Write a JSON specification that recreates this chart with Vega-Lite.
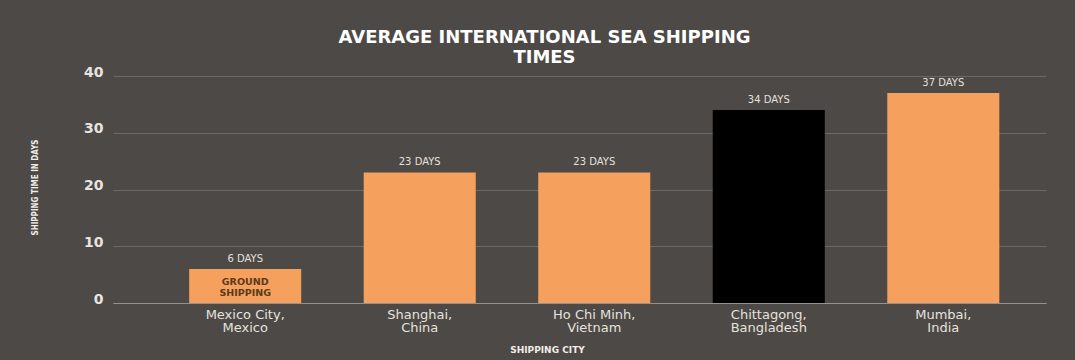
{
  "$schema": "https://vega.github.io/schema/vega-lite/v6.json",
  "width": 933,
  "height": 227,
  "autosize": {"type": "none"},
  "padding": {"left": 113, "top": 76, "right": 29, "bottom": 57},
  "background": "#4d4946",
  "title": {
    "text": ["AVERAGE INTERNATIONAL SEA SHIPPING", "TIMES"],
    "font": "DejaVu Sans",
    "fontSize": 18,
    "fontWeight": "bold",
    "color": "#ffffff",
    "lineHeight": 20,
    "anchor": "middle",
    "dx": -35,
    "offset": -2
  },
  "data": {
    "values": [
      {"city": "Mexico City, Mexico", "days": 6, "note": "GROUND SHIPPING"},
      {"city": "Shanghai, China", "days": 23},
      {"city": "Ho Chi Minh, Vietnam", "days": 23},
      {"city": "Chittagong, Bangladesh", "days": 34},
      {"city": "Mumbai, India", "days": 37}
    ]
  },
  "encoding": {
    "x": {
      "field": "city",
      "type": "nominal",
      "sort": null,
      "scale": {"paddingInner": 0.358, "paddingOuter": 0.352, "align": 0.62},
      "axis": {
        "title": "SHIPPING CITY",
        "labelExpr": "[split(datum.label, ', ')[0] + ',', split(datum.label, ', ')[1]]",
        "labelAngle": 0,
        "ticks": false,
        "domain": true,
        "domainColor": "#a8a29c",
        "domainOpacity": 0.7,
        "labelFont": "DejaVu Sans",
        "labelFontSize": 13,
        "labelColor": "#e6e2de",
        "labelPadding": 5,
        "labelLineHeight": 13,
        "labelBaseline": "top",
        "titleFont": "DejaVu Sans",
        "titleFontSize": 9,
        "titleFontWeight": "bold",
        "titleColor": "#f0ece8",
        "titleX": 434,
        "titleY": 46,
        "titleBaseline": "middle"
      }
    },
    "y": {
      "field": "days",
      "type": "quantitative",
      "scale": {"domain": [0, 40]},
      "axis": {
        "title": "SHIPPING TIME IN DAYS",
        "values": [0, 10, 20, 30, 40],
        "ticks": false,
        "domain": false,
        "labelFont": "DejaVu Sans",
        "labelFontWeight": "bold",
        "labelFontSize": 14,
        "labelColor": "#e8e4e0",
        "labelPadding": 10,
        "labelOffset": -4,
        "gridColor": "#a8a29c",
        "gridOpacity": 0.35,
        "gridWidth": 1,
        "titleFont": "Liberation Sans Narrow, DejaVu Sans Condensed",
        "titleFontSize": 8,
        "titleFontWeight": "bold",
        "titleColor": "#f0ece8",
        "titleX": -78,
        "titleY": 111,
        "titleBaseline": "middle",
        "titleAngle": -90,
        "titleAlign": "center"
      }
    }
  },
  "layer": [
    {
      "mark": {"type": "bar"},
      "encoding": {
        "color": {
          "condition": {"test": "datum.city === 'Chittagong, Bangladesh'", "value": "#000000"},
          "value": "#f5a05c"
        }
      }
    },
    {
      "mark": {
        "type": "text",
        "baseline": "bottom",
        "dy": -5,
        "font": "DejaVu Sans",
        "fontSize": 10,
        "color": "#e4e0dc",
        "text": {"expr": "datum.days + ' DAYS'"}
      }
    },
    {
      "transform": [{"filter": "isValid(datum.note)"}],
      "mark": {
        "type": "text",
        "baseline": "top",
        "dy": 8,
        "font": "DejaVu Sans",
        "fontSize": 9.5,
        "fontWeight": "bold",
        "color": "#5a3a1c",
        "lineBreak": " ",
        "lineHeight": 11
      },
      "encoding": {"text": {"field": "note"}}
    }
  ],
  "config": {"view": {"stroke": null}}
}
